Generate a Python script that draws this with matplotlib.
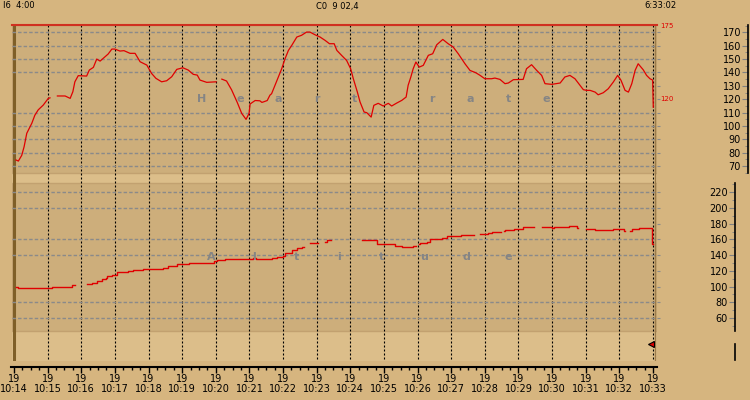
import numpy as np
import matplotlib
matplotlib.use('Agg')
import matplotlib.pyplot as plt
from matplotlib.ticker import MultipleLocator
from matplotlib.lines import Line2D

W, H = 750, 400
X0 = 14          # pixel of 10:14
PX_MIN = 33.63   # pixels per minute

BG = '#D6B57F'
PANEL = '#CDAE7B'
BAND = '#DCBE8A'
EDGE = '#C2A170'
GRID = '#8A8A8A'
RED = '#E00000'

# time axis: minutes after 10:14
minutes = list(range(20))
day_label = '19'
time_labels = ['10:%02d' % (14 + m) for m in minutes]

# heart rate (bpm)
hr_t = [0.06, 0.13, 0.23, 0.30, 0.38, 0.53, 0.62, 0.72, 0.87, 1.02, 1.07, 1.15,
        1.29, 1.52, 1.67, 1.75, 1.81, 1.91, 2.16, 2.24, 2.36, 2.46, 2.56, 2.71,
        2.80, 2.91, 3.00, 3.15, 3.27, 3.45, 3.60, 3.75, 3.95, 4.09, 4.22, 4.39,
        4.54, 4.69, 4.84, 5.02, 5.18, 5.33, 5.45, 5.53, 5.73, 6.01, 6.08,
        6.18, 6.32, 6.47, 6.64, 6.77, 6.90, 6.99, 7.02, 7.17, 7.31, 7.37, 7.41,
        7.53, 7.61, 7.66, 7.76, 7.86, 7.96, 8.06, 8.16, 8.26, 8.41, 8.55, 8.70,
        8.80, 8.95, 9.10, 9.25, 9.38, 9.52, 9.60, 9.74, 9.89, 10.01, 10.09, 10.21,
        10.29, 10.41, 10.49, 10.62, 10.70, 10.83, 10.98, 11.13, 11.23, 11.38,
        11.53, 11.66, 11.72, 11.80, 11.87, 11.95, 12.05, 12.17, 12.32, 12.45,
        12.57, 12.75, 12.91, 13.06, 13.21, 13.41, 13.56, 13.73, 13.86, 14.00,
        14.20, 14.30, 14.45, 14.60, 14.70, 14.85, 15.14, 15.24, 15.39, 15.54,
        15.69, 15.79, 15.99, 16.24, 16.38, 16.53, 16.68, 16.83, 16.93, 17.03,
        17.13, 17.28, 17.37, 17.52, 17.67, 17.82, 17.95, 18.05, 18.17, 18.27,
        18.37, 18.47, 18.56, 18.71, 18.81, 18.91, 18.99, 19.01]
hr_v = [74.5, 73.7, 78, 84.4, 94.5, 102, 108, 112, 115.6, 120.6, 121, np.nan,
        122.4, 122.4, 120.6, 125.6, 133, 137.6, 137.3, 141.8, 143.8, 150, 148.5, 151.8,
        153.8, 157.5, 157.5, 156, 156.3, 154.3, 154.3, 148, 145.5, 139.3, 135.6, 133,
        133.8, 136.8, 142.3, 143.5, 141.8, 138.6, 138, 134.3, 132.6, 133, np.nan,
        135, 133.6, 127, 117.5, 109.4, 104.9, 109.4, 116.4, 119, 118.8, 117.6, 117.9,
        119, 123, 124.1, 130.4, 136.6, 142.8, 150.3, 156.5, 160.3, 166.5, 167.8, 170.2,
        170.2, 168.2, 166.5, 164, 161.5, 161.5, 156.5, 152.8, 149, 142.8, 135.3, 125.3,
        117.9, 110.4, 109.9, 106.6, 115.4, 116.9, 114.9, 116.9, 114.9, 117.1,
        119.1, 121.6, 130.4, 136.6, 142.8, 147.8, 144, 145.3, 152.8, 154,
        160.7, 164.7, 161.5, 159, 154, 146.5, 141.5, 139.8, 137.8, 135.3,
        135.3, 135.8, 134.8, 131.6, 132.1, 134.6, 134.8, 142.8, 145.8, 141.6,
        137.8, 131.6, 131.1, 132.1, 136.6, 137.8, 135.3, 130.4, 127.1, 126.6,
        126.6, 125.3, 123.3, 124.8, 127.8, 132.8, 137.8, 134.1, 126.6, 125.3,
        131.6, 141.6, 146.5, 142, 137.8, 135.3, 134.3, 114]

# altitude (m), step values
alt_t = [0.06, 0.13, 1.12, 1.72, 1.81, 2.18, 2.33, 2.48, 2.61, 2.73, 2.76, 2.91,
         3.05, 3.40, 3.53, 3.85, 4.44, 4.59, 4.86, 5.21, 5.96, 6.05, 6.27, 7.12,
         7.20, 7.66, 7.81, 8.01, 8.06, 8.26, 8.42, 8.57, 8.62, 8.80, 9.04, 9.25,
         9.30, 9.42, 10.34, 10.80, 11.33, 11.53, 11.86, 11.95, 12.05, 12.07, 12.29,
         12.37, 12.74, 12.89, 13.28, 13.68, 13.86, 14.10, 14.20, 14.49, 14.58,
         14.61, 14.88, 15.14, 15.45, 15.71, 15.99, 16.07, 16.51, 16.75, 16.78,
         17.00, 17.29, 17.80, 18.15, 18.18, 18.32, 18.37, 18.59, 18.98, 18.99]
alt_v = [99, 97.7, 99, 101.5, np.nan, 102.8, 104.8, 107, 109.2, 110.4, 113, 114.3,
         118, 119.4, 120.6, 122, 123.2, 125.7, 128.3, 129.6, 132, 133.4, 134.6, 136,
         134.6, 136, 137.2, 139.2, 142.3, 146.1, 148.7, 150.7, np.nan, 155, np.nan, 157,
         158.9, np.nan, 158.9, 153.8, 151.2, 149.9, 151.6, np.nan, 153.8, 155, 157,
         160.1, 162.2, 164, 165.2, np.nan, 166.5, 167.8, 169, np.nan, 170.3,
         171.6, 172.9, 175.4, np.nan, 175.4, 174.1, 175.4, 176.7, 174.1, np.nan,
         172.9, 171.6, 172.9, 170.3, np.nan, 170.3, 172.9, 174.1, 153.8, 153.8]

hr_grid = [170, 160, 150, 140, 110, 100, 90, 80, 70]
alt_grid = [220, 200, 160, 140, 80, 60]
hr_lim = (65, 175.5)
alt_lim = (43.7, 231.5)
hr_max, hr_now = 175, 120


def box(x0, y0, x1, y1):
    return [x0 / W, 1 - y1 / H, (x1 - x0) / W, (y1 - y0) / H]


def tx(px):
    return (px - X0) / PX_MIN


def clean(ax):
    ax.set_xticks([])
    ax.set_yticks([])
    for s in ax.spines.values():
        s.set_visible(False)


fig = plt.figure(figsize=(7.5, 4), dpi=100)
fig.patch.set_facecolor(BG)

# background of plot region with the two darker panels
ax_bg = fig.add_axes(box(12, 25, 657, 361))
clean(ax_bg)
ax_bg.set_facecolor(BAND)
ax_bg.set_xlim(tx(12), tx(657))
ax_bg.set_ylim(361, 25)
ax_bg.axhspan(25, 172.7, facecolor=PANEL, edgecolor=EDGE, lw=1, zorder=0)
ax_bg.axhspan(183.3, 330.7, facecolor=PANEL, edgecolor=EDGE, lw=1, zorder=0)
ax_bg.vlines(minutes[1:], 25, 361, colors='k', linestyles=(0, (1.8, 1.8)), lw=0.8, zorder=2)
ax_bg.vlines(0, 25, 361, colors='#7F5F28', lw=2.2, zorder=3)
ax_bg.axvline(tx(655), color='#9B7B4A', lw=1, zorder=3)
ax_bg.plot([tx(651)], [343.5], marker='<', ms=5, mfc=RED, mec='k', mew=0.8, zorder=4)

# heart rate panel
ax_top = fig.add_axes(box(12, 25, 657, 172.7), facecolor='none')
ax_top.set_xlim(tx(12), tx(657))
ax_top.set_ylim(*hr_lim)
for g in hr_grid:
    ax_top.axhline(g, color=GRID, lw=1, ls=(0, (2.5, 1.5)), zorder=1)
ax_top.plot(hr_t, hr_v, color=RED, lw=0.9, zorder=3)
for s in ax_top.spines.values():
    s.set_visible(False)
ax_top.spines['top'].set_visible(True)
ax_top.spines['top'].set_color('#D03020')
ax_top.spines['top'].set_linewidth(1.5)
ax_top.set_xticks([])
ax_top.yaxis.tick_right()
ax_top.yaxis.set_major_locator(MultipleLocator(10))
ax_top.tick_params(axis='y', length=2.5, color=GRID, labelright=False)
ax_top.text(tx(660), hr_max, str(hr_max), color=RED, fontsize=5, va='center', clip_on=False)
ax_top.text(tx(660), hr_now, str(hr_now), color=RED, fontsize=5, va='center', clip_on=False)

# altitude panel
ax_bot = fig.add_axes(box(12, 183.3, 657, 330.7), facecolor='none')
ax_bot.set_xlim(tx(12), tx(657))
ax_bot.set_ylim(*alt_lim)
for g in alt_grid:
    ax_bot.axhline(g, color=GRID, lw=1, ls=(0, (2.5, 1.5)), zorder=1)
ax_bot.plot(alt_t, alt_v, color=RED, lw=1.0, drawstyle='steps-post', zorder=3)
for s in ax_bot.spines.values():
    s.set_visible(False)
ax_bot.set_xticks([])
ax_bot.yaxis.tick_right()
ax_bot.yaxis.set_major_locator(MultipleLocator(20))
ax_bot.tick_params(axis='y', length=2.5, color=GRID, labelright=False)

# right hand value scales
for (x, y0, y1, lim, maj, mnr) in [(748, 25, 172.7, hr_lim, 10, 5),
                                    (735, 183.3, 330.7, alt_lim, 20, 10)]:
    axr = fig.add_axes(box(x, y0, x + 1, y1))
    axr.patch.set_visible(False)
    axr.set_ylim(*lim)
    axr.set_xticks([])
    for k in ['top', 'right', 'bottom']:
        axr.spines[k].set_visible(False)
    axr.spines['left'].set_linewidth(1.2)
    axr.yaxis.set_major_locator(MultipleLocator(maj))
    axr.yaxis.set_minor_locator(MultipleLocator(mnr))
    axr.tick_params(axis='y', which='major', length=4, color='#808080', labelsize=7, pad=1)
    axr.tick_params(axis='y', which='minor', length=2, color='#808080')
fig.add_artist(Line2D([735 / W, 735 / W], [1 - 344 / H, 1 - 360 / H], color='k', lw=1.2))

# time axis
ax_x = fig.add_axes(box(11, 366.5, 657, 367))
ax_x.patch.set_visible(False)
ax_x.set_xlim(tx(11), tx(657))
ax_x.set_yticks([])
for k in ['top', 'right', 'left']:
    ax_x.spines[k].set_visible(False)
ax_x.spines['bottom'].set_linewidth(1.5)
ax_x.set_xticks(minutes)
ax_x.set_xticklabels([day_label + '\n' + t for t in time_labels], linespacing=1.05)
ax_x.xaxis.set_minor_locator(MultipleLocator(0.25))
ax_x.tick_params(axis='x', which='major', length=4, width=1, labelsize=7, pad=1)
ax_x.tick_params(axis='x', which='minor', length=2.5, width=1)

# faint series titles spelled across the panels
for i, ch in enumerate('Heart rate'):
    fig.text((201.7 + 38.3 * i) / W, 1 - 99 / H, ch, color='#858585', fontsize=8,
             fontweight='bold', ha='center', va='center')
for i, ch in enumerate('Altitude'):
    fig.text((211.7 + 42.4 * i) / W, 1 - 257 / H, ch, color='#858585', fontsize=8,
             fontweight='bold', ha='center', va='center')

# header
fig.text(3 / W, 1 - 6 / H, 'I6  4:00', fontsize=6, va='center')
fig.text(316 / W, 1 - 6 / H, 'C0  9 02,4', fontsize=6, va='center')
fig.text(644 / W, 1 - 6 / H, '6:33:02', fontsize=6, va='center')

fig.savefig('out.png', dpi=100, facecolor=BG)
